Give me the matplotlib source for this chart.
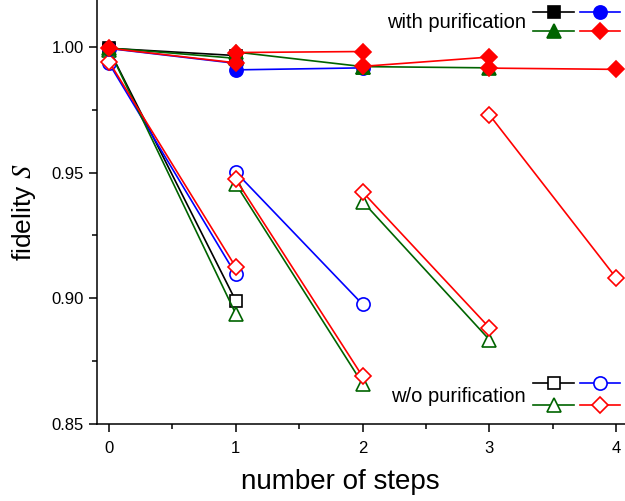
import matplotlib
matplotlib.use("Agg")
import matplotlib.pyplot as plt
from matplotlib.lines import Line2D
from matplotlib.ticker import MultipleLocator, FormatStrFormatter

plt.rcParams['font.family'] = ['Liberation Sans', 'DejaVu Sans']
plt.rcParams['mathtext.fontset'] = 'stix'

# ---- data: each segment goes from step s to step s+1 ----
# with purification (filled markers)
pur_black_start = [0]
pur_black_fid = [(0.9995, 0.9966)]
pur_blue_start = [0, 1]
pur_blue_fid = [(0.9994, 0.9935), (0.9909, 0.9917)]
pur_green_start = [0, 1, 2]
pur_green_fid = [(0.9996, 0.9955), (0.9980, 0.9922), (0.9922, 0.9917)]
pur_red_start = [0, 1, 2, 3]
pur_red_fid = [(0.9995, 0.9937), (0.9978, 0.9982), (0.9923, 0.9960), (0.9916, 0.9911)]

# without purification (open markers)
wo_black_start = [0]
wo_black_fid = [(0.9990, 0.8990)]
wo_blue_start = [0, 1]
wo_blue_fid = [(0.9935, 0.9095), (0.9502, 0.8976)]
wo_green_start = [0, 1, 2]
wo_green_fid = [(0.9990, 0.8938), (0.9455, 0.8660), (0.9385, 0.8835)]
wo_red_start = [0, 1, 2, 3]
wo_red_fid = [(0.9942, 0.9124), (0.9473, 0.8689), (0.9423, 0.8883), (0.9730, 0.9081)]

x_ticks = [0, 1, 2, 3, 4]
y_ticks = [0.85, 0.90, 0.95, 1.00]

GREEN = '#006400'
styles = {
    'black': dict(color='black', marker='s', ms=8),
    'blue': dict(color='#0000ff', marker='o', ms=9.5),
    'green': dict(color=GREEN, marker='^', ms=10),
    'red': dict(color='#ff0000', marker='D', ms=8),
}

fig = plt.figure(figsize=(6.25, 5.01), dpi=100)
ax = fig.add_axes([97/625, 77/501, 1 - 97/625, 1 - 77/501])

def draw(starts, fids, key, filled, z):
    st = styles[key]
    for s, (y0, y1) in zip(starts, fids):
        ax.plot([s, s + 1], [y0, y1], color=st['color'], lw=1.2,
                marker=st['marker'], ms=st['ms'], mew=1.2,
                mfc=st['color'] if filled else 'white',
                mec=st['color'], zorder=z, clip_on=False)

draw(wo_black_start, wo_black_fid, 'black', False, 3)
draw(wo_blue_start, wo_blue_fid, 'blue', False, 3.1)
draw(wo_green_start, wo_green_fid, 'green', False, 3.2)
draw(wo_red_start, wo_red_fid, 'red', False, 3.3)
draw(pur_black_start, pur_black_fid, 'black', True, 4)
draw(pur_blue_start, pur_blue_fid, 'blue', True, 4.1)
draw(pur_green_start, pur_green_fid, 'green', True, 4.2)
draw(pur_red_start, pur_red_fid, 'red', True, 4.3)

ax.set_xlim(-0.0946, 4.069)
ax.set_ylim(0.85, 1.0187)
ax.set_xticks(x_ticks)
ax.set_yticks(y_ticks)
ax.yaxis.set_major_formatter(FormatStrFormatter('%.2f'))
ax.xaxis.set_minor_locator(MultipleLocator(0.5))
ax.yaxis.set_minor_locator(MultipleLocator(0.025))
ax.tick_params(which='major', direction='out', length=6, width=1.1, labelsize=12)
ax.tick_params(which='minor', direction='out', length=3.5, width=1.1)
ax.tick_params(axis='x', pad=6)
for sp in ['top', 'right']:
    ax.spines[sp].set_visible(False)
for sp in ['left', 'bottom']:
    ax.spines[sp].set_linewidth(1.1)

ax.set_xlabel('number of steps', fontsize=20)
ax.xaxis.set_label_coords((340 - 97) / 528, -(495 - 424) / 424)
ax.xaxis.label.set_va('bottom')
ax.set_ylabel(r'fidelity $S$', fontsize=19, labelpad=10)

def make_legend(filled, anchor, spacing):
    hs = []
    for key in ['black', 'green', 'blue', 'red']:
        st = styles[key]
        hs.append(Line2D([], [], color=st['color'], lw=1.2, marker=st['marker'],
                         ms=st['ms'], mew=1.2, mec=st['color'],
                         mfc=st['color'] if filled else 'white'))
    leg = ax.legend(hs, [''] * 4, ncol=2, frameon=False, loc='center right',
                    bbox_to_anchor=anchor, bbox_transform=fig.transFigure,
                    handlelength=2.0, handletextpad=0.0, columnspacing=0.3,
                    labelspacing=spacing, fontsize=14.5, borderpad=0, borderaxespad=0)
    return leg

leg1 = make_legend(True, (620/625, 1 - 23.5/501), 0.0)
ax.add_artist(leg1)
leg2 = make_legend(False, (620/625, 1 - 396/501), 0.15)

fig.text(526/625, 1 - 22/501, 'with purification', fontsize=14.5,
         ha='right', va='center')
fig.text(526/625, 1 - 396/501, 'w/o purification', fontsize=14.5,
         ha='right', va='center')

fig.savefig('out.png', dpi=100)
